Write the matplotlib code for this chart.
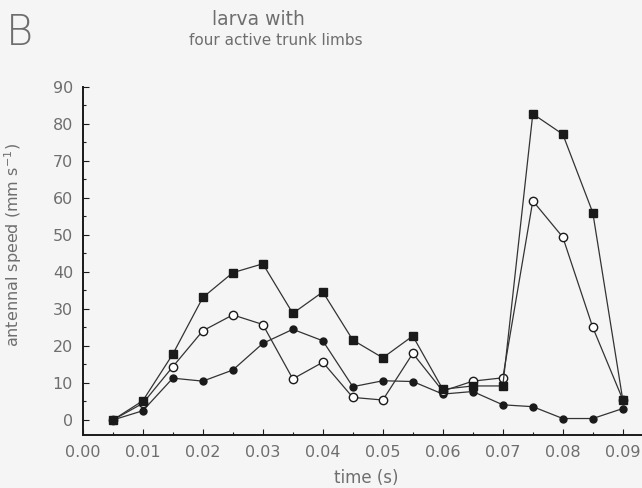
import matplotlib
matplotlib.use('Agg')
import matplotlib.pyplot as plt
import matplotlib.ticker as mticker

# ─── data ───────────────────────────────────────────────────────────────────
time_s = [0.005, 0.010, 0.015, 0.020, 0.025, 0.030, 0.035, 0.040, 0.045,
          0.050, 0.055, 0.060, 0.065, 0.070, 0.075, 0.080, 0.085, 0.090]
speed_square = [0.0, 5.2, 17.8, 33.1, 39.8, 42.2, 28.8, 34.6, 21.6,
                16.8, 22.7, 8.3, 9.2, 9.2, 82.7, 77.2, 56.0, 5.4]
speed_open = [0.0, 4.5, 14.4, 24.1, 28.4, 25.8, 11.1, 15.6, 6.1,
              5.4, 18.0, 7.8, 10.5, 11.4, 59.2, 49.4, 25.0, 5.5]
speed_filled = [0.0, 2.5, 11.3, 10.5, 13.5, 20.7, 24.5, 21.4, 9.0,
                10.6, 10.4, 7.0, 7.7, 4.1, 3.6, 0.4, 0.4, 3.1]

BG = '#f5f5f5'
INK = '#1a1a1a'
TXT = '#6e6e6e'

plt.rcParams.update({
    'font.family': ['DejaVu Sans'],
    'font.size': 10,
    'text.color': TXT,
    'xtick.color': INK,
    'ytick.color': INK,
    'xtick.labelcolor': TXT,
    'ytick.labelcolor': TXT,
})

fig = plt.figure(figsize=(6.42, 4.88), dpi=100, facecolor=BG)
ax = fig.add_axes([0.129, 0.109, 0.871, 0.713], facecolor=BG)

line_kw = dict(color='#333333', linewidth=0.9)
ax.plot(time_s, speed_filled, marker='o', markersize=5,
        markerfacecolor=INK, markeredgecolor=INK, **line_kw)
ax.plot(time_s, speed_open, marker='o', markersize=6,
        markerfacecolor='white', markeredgecolor=INK, markeredgewidth=1.0, **line_kw)
ax.plot(time_s, speed_square, marker='s', markersize=5.5,
        markerfacecolor=INK, markeredgecolor=INK, **line_kw)

ax.set_xlim(0, 0.0932)
ax.set_ylim(-4, 90)
ax.xaxis.set_major_locator(mticker.MultipleLocator(0.01))
ax.xaxis.set_minor_locator(mticker.MultipleLocator(0.005))
ax.xaxis.set_major_formatter(mticker.FormatStrFormatter('%.2f'))
ax.yaxis.set_major_locator(mticker.MultipleLocator(10))
ax.yaxis.set_minor_locator(mticker.MultipleLocator(5))

ax.spines['top'].set_visible(False)
ax.spines['right'].set_visible(False)
for side in ('left', 'bottom'):
    ax.spines[side].set_color(INK)
    ax.spines[side].set_linewidth(1.4)

ax.tick_params(which='both', direction='in', width=0.8)
ax.tick_params(which='major', length=4, labelsize=11.5, pad=7)
ax.tick_params(which='minor', length=2)

# axis titles placed in figure coords
fig.text(0.570, 0.021, 'time (s)', fontsize=12, color=TXT, ha='center', va='center')
fig.text(0.021, 0.498, 'antennal speed (mm s$^{-1}$)', fontsize=11.5, color=TXT,
         rotation=90, ha='center', va='center')

fig.text(0.030, 0.934, 'B', fontsize=30, color=TXT, ha='center', va='center',
         fontweight='light')
fig.text(0.402, 0.961, 'larva with', fontsize=13.5, color=TXT, ha='center', va='center')
fig.text(0.430, 0.916, 'four active trunk limbs', fontsize=11, color=TXT,
         ha='center', va='center')

fig.savefig('out.png', dpi=100, facecolor=BG)
